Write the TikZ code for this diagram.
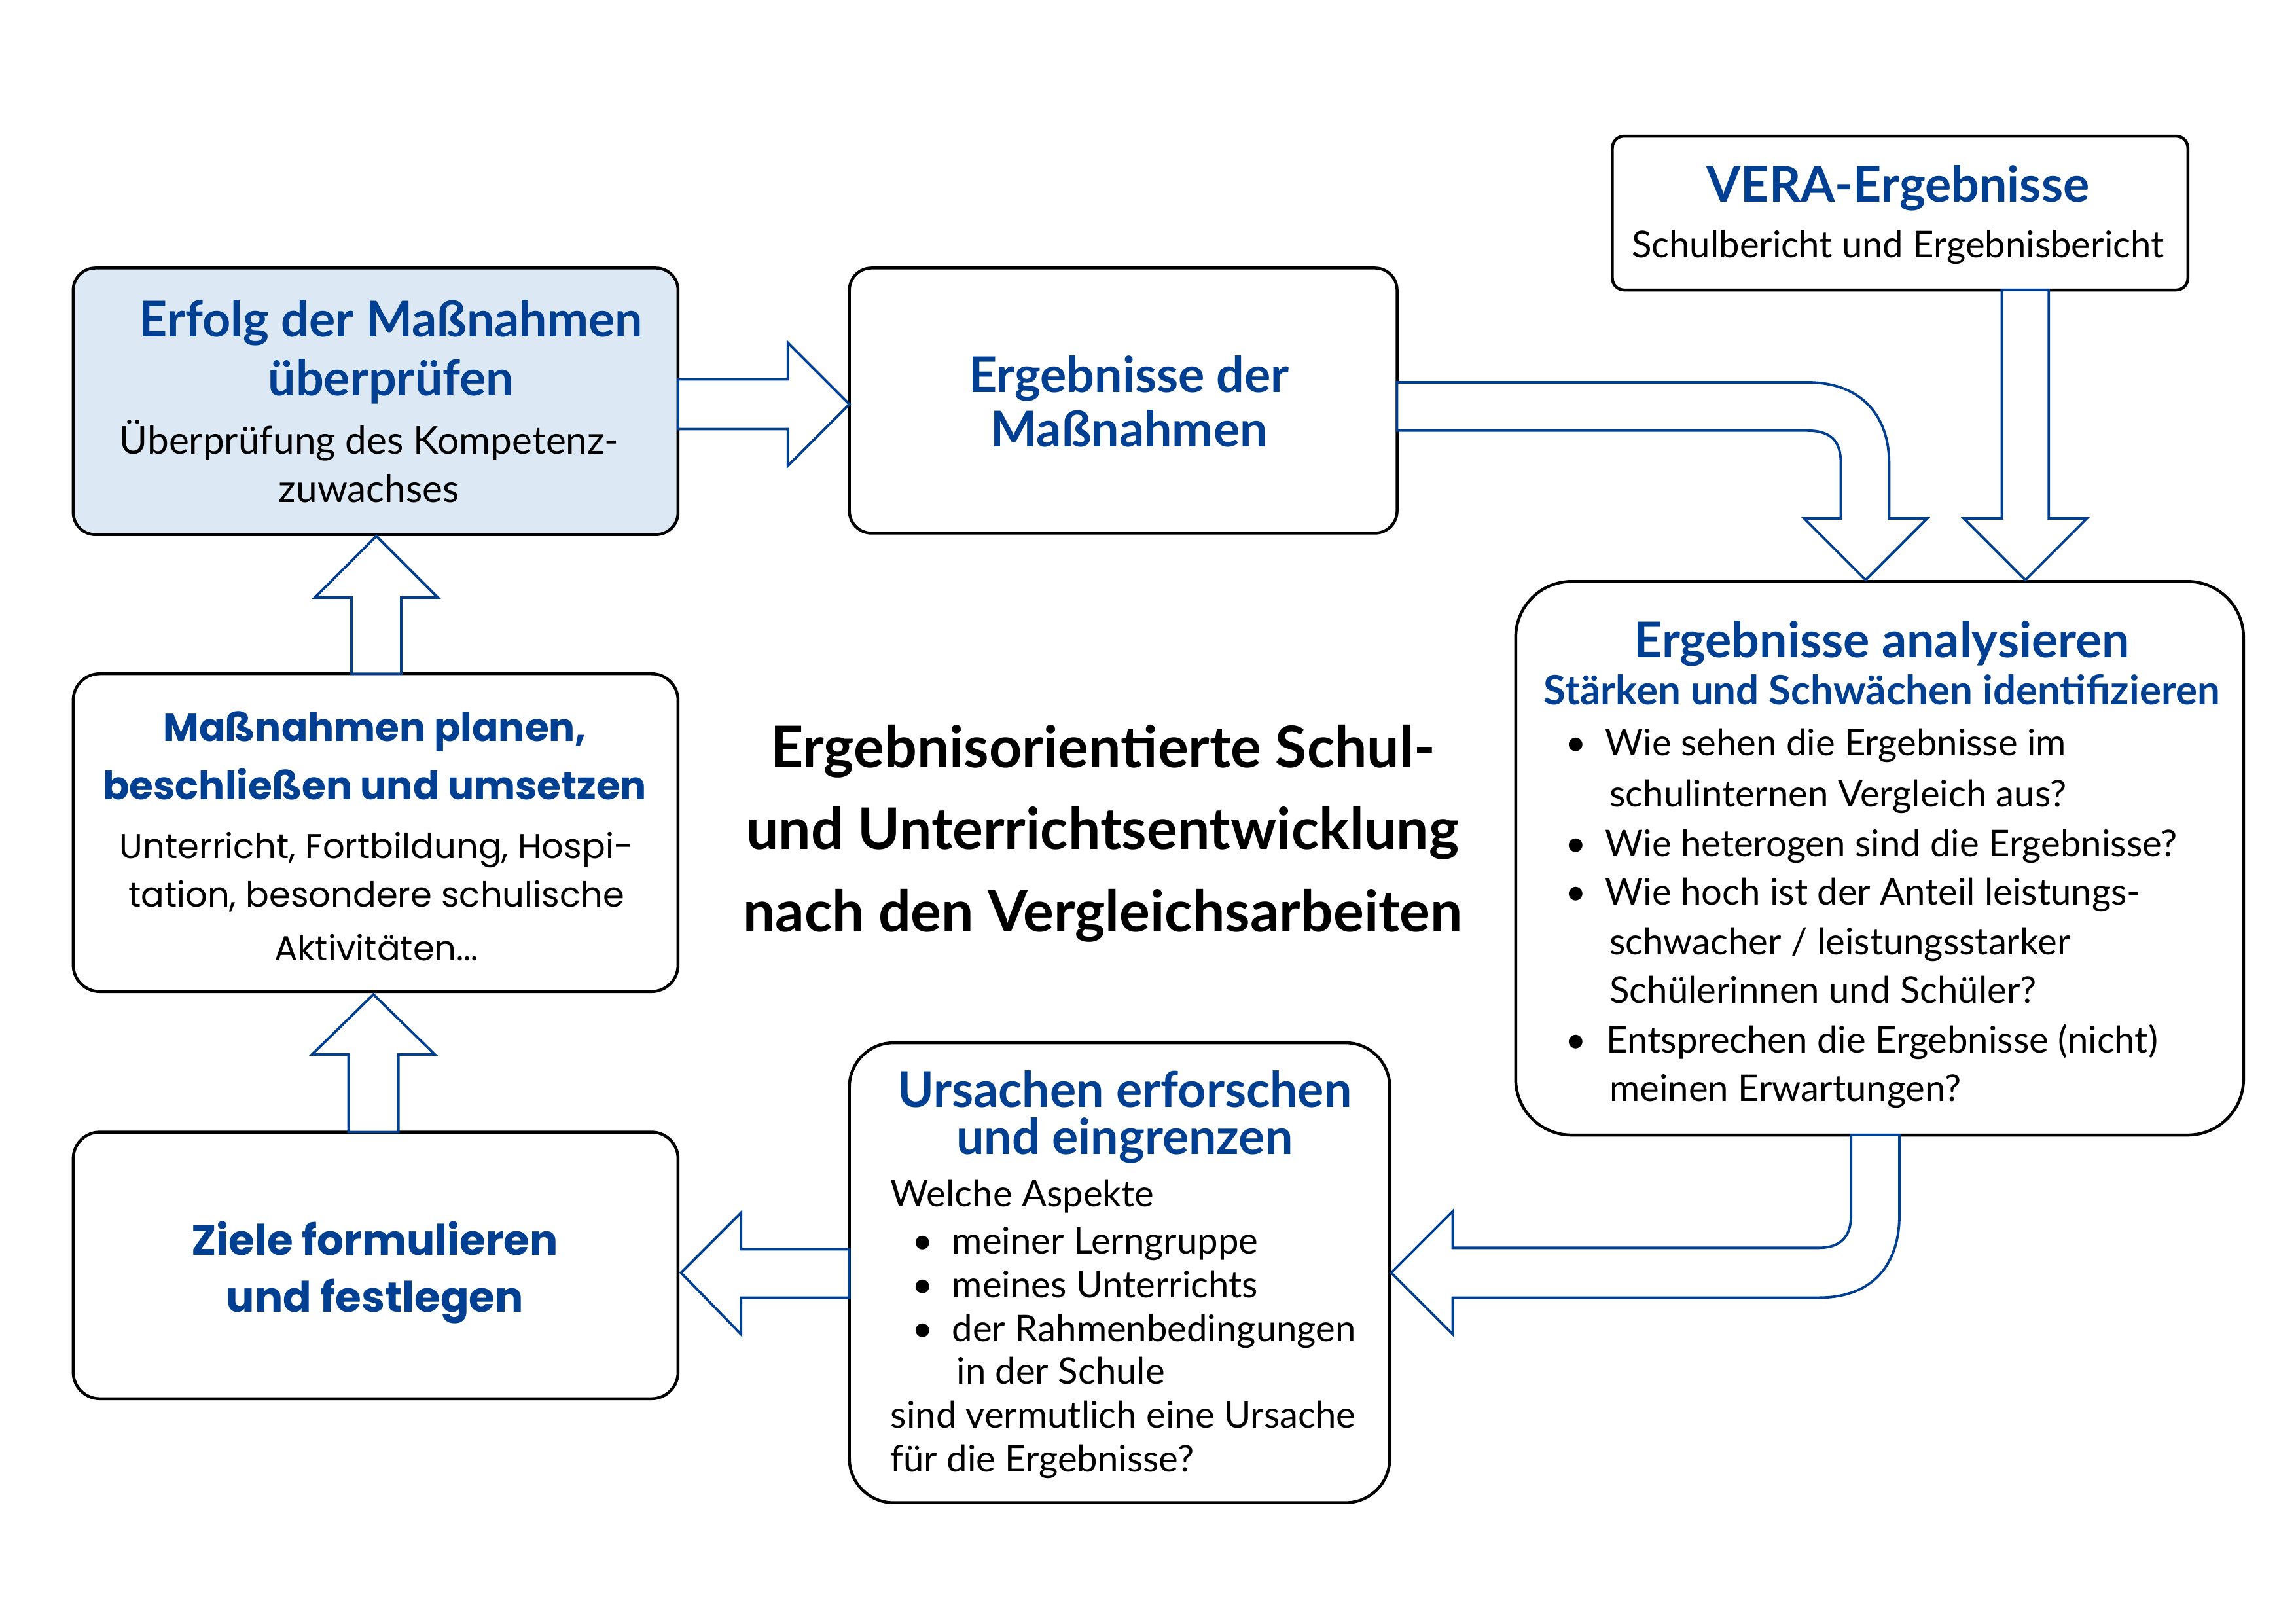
\documentclass[tikz,border=0pt]{standalone}
\usepackage{fontspec}
\setmainfont{Lato}
\newfontfamily\popfont{Poppins}
\usetikzlibrary{fit}
\definecolor{vblue}{RGB}{0,63,145}
\definecolor{lblue}{RGB}{220,233,245}
\begin{document}
\begin{tikzpicture}[x=0.995pt,y=-0.995pt,
  box/.style={draw=black, line width=2pt, rounded corners=#1, inner sep=0pt, outer sep=0pt, fill=white},
  hd/.style={font=\fontsize{33.5}{40}\selectfont\bfseries, text=vblue, inner sep=0pt, anchor=base},
  shd/.style={font=\fontsize{27.5}{33}\selectfont\bfseries, text=vblue, inner sep=0pt, anchor=base},
  bd/.style={font=\fontsize{25}{30}\selectfont, inner sep=0pt, anchor=base},
  ebd/.style={font=\fontsize{26}{31}\selectfont, inner sep=0pt, anchor=base},
  bdl/.style={font=\fontsize{25}{30}\selectfont, inner sep=0pt, anchor=base west},
  phd/.style={font=\popfont\fontsize{26.5}{32}\selectfont\bfseries, text=vblue, inner sep=0pt, anchor=base},
  zhd/.style={font=\popfont\fontsize{28.6}{34}\selectfont\bfseries, text=vblue, inner sep=0pt, anchor=base},
  pbd/.style={font=\popfont\fontsize{23.5}{28}\selectfont, inner sep=0pt, anchor=base},
  ttl/.style={font=\fontsize{39}{46}\selectfont\bfseries, inner sep=0pt, anchor=base},
  blt/.style={font=\fontsize{25}{30}\selectfont, inner sep=0pt, anchor=base},
  arr/.style={draw=vblue, line width=1.7pt, fill=white, line join=miter}
]
\fill[white] (0pt,0pt) rectangle (1560pt,-1103pt);
\useasboundingbox (0pt,0pt) rectangle (1560pt,-1103pt);

% boxes
\node[box=15pt, fill=lblue, fit={(50,183) (463,365)}] (erfolg) {};
\node[box=15pt, fit={(580,183) (954,364)}] (ergm) {};
\node[box=8pt, fit={(1101,93) (1494,198)}] (vera) {};
\node[box=38pt, fit={(1035,397) (1532,775)}] (anal) {};
\node[box=18pt, fit={(50,460) (463,677)}] (plan) {};
\node[box=18pt, fit={(50,773) (463,955)}] (ziele) {};
\node[box=30pt, fit={(580,712) (949,1026)}] (urs) {};

% block arrows
\draw[arr] (463,259) -- (538,259) -- (538,234) -- (580,276) -- (538,318) -- (538,293) -- (463,293) -- cycle;
\draw[arr] (954,261) -- (1234,261) .. controls (1272,261) and (1290,285) .. (1290,316) -- (1290,354) -- (1316,354) -- (1274,396) -- (1232,354) -- (1257,354) -- (1257,316) .. controls (1257,301) and (1250,294) .. (1234,294) -- (954,294) -- cycle;
\draw[arr] (1367,198) -- (1367,354) -- (1341,354) -- (1383,396) -- (1425,354) -- (1399,354) -- (1399,198) -- cycle;
\draw[arr] (1264,775) -- (1264,830) .. controls (1264,845) and (1256,852) .. (1242,852) -- (992,852) -- (992,827) -- (950,869) -- (992,911) -- (992,886) -- (1242,886) .. controls (1280,886) and (1297,862) .. (1297,830) -- (1297,775) -- cycle;
\draw[arr] (580,853) -- (506,853) -- (506,828) -- (465,869) -- (506,911) -- (506,886) -- (580,886) -- cycle;
\draw[arr] (240,460) -- (240,408) -- (215,408) -- (257,366) -- (299,408) -- (274,408) -- (274,460) -- cycle;
\draw[arr] (238,773) -- (238,720) -- (213,720) -- (255,679) -- (297,720) -- (272,720) -- (272,773) -- cycle;

% texts: Erfolg
\node[hd] (e1) at (267,230) {Erfolg der Maßnahmen};
\node[hd] (e2) at (267,270) {überprüfen};
\node[ebd] (e3) at (252,310) {Überprüfung des Kompetenz-};
\node[ebd] (e4) at (252,343) {zuwachses};

% Ergebnisse der Maßnahmen
\node[hd] (g1) at (771,268) {Ergebnisse der};
\node[hd] (g2) at (771,305) {Maßnahmen};

% VERA
\node[hd] (v1) at (1296,138) {VERA-Ergebnisse};
\node[bd] (v2) at (1296,176) {Schulbericht und Ergebnisbericht};

% analysieren
\node[hd] (a1) at (1285,449) {Ergebnisse analysieren};
\node[shd] (a2) at (1285,481) {Stärken und Schwächen identifizieren};
\node[blt] (ab1) at (1076,516) {•};
\node[bdl] (at1) at (1096,516) {Wie sehen die Ergebnisse im};
\node[bdl] (at2) at (1099,551) {schulinternen Vergleich aus?};
\node[blt] (ab2) at (1076,585) {•};
\node[bdl] (at3) at (1096,585) {Wie heterogen sind die Ergebnisse?};
\node[blt] (ab3) at (1076,618) {•};
\node[bdl] (at4) at (1096,618) {Wie hoch ist der Anteil leistungs-};
\node[bdl] (at5) at (1099,652) {schwacher / leistungsstarker};
\node[bdl] (at6) at (1099,685) {Schülerinnen und Schüler?};
\node[blt] (ab4) at (1076,719) {•};
\node[bdl] (at7) at (1097,719) {Entsprechen die Ergebnisse (nicht)};
\node[bdl] (at8) at (1099,752) {meinen Erwartungen?};

% planen
\node[phd] (p1) at (256,506) {Maßnahmen planen,};
\node[phd] (p2) at (256,546) {beschließen und umsetzen};
\node[pbd] (p3) at (257,586) {Unterricht, Fortbildung, Hospi-};
\node[pbd] (p4) at (257,619) {tation, besondere schulische};
\node[pbd] (p5) at (257,656) {Aktivitäten...};

% Ziele
\node[zhd] (z1) at (256,857) {Ziele formulieren};
\node[zhd] (z2) at (256,896) {und festlegen};

% title
\node[ttl] (t1) at (753,524) {Ergebnisorientierte Schul-};
\node[ttl] (t2) at (753,580) {und Unterrichtsentwicklung};
\node[ttl] (t3) at (753,636) {nach den Vergleichsarbeiten};

% Ursachen
\node[hd] (u1) at (768,756) {Ursachen erforschen};
\node[hd] (u2) at (768,788) {und eingrenzen};
\node[bdl] (u3) at (608,824) {Welche Aspekte};
\node[blt] (ub1) at (630,856) {•};
\node[bdl] (u4) at (650,856) {meiner Lerngruppe};
\node[blt] (ub2) at (630,886) {•};
\node[bdl] (u5) at (650,886) {meines Unterrichts};
\node[blt] (ub3) at (630,916) {•};
\node[bdl] (u6) at (650,916) {der Rahmenbedingungen};
\node[bdl] (u7) at (653,945) {in der Schule};
\node[bdl] (u8) at (608,975) {sind vermutlich eine Ursache};
\node[bdl] (u9) at (608,1005) {für die Ergebnisse?};
\end{tikzpicture}
\end{document}
